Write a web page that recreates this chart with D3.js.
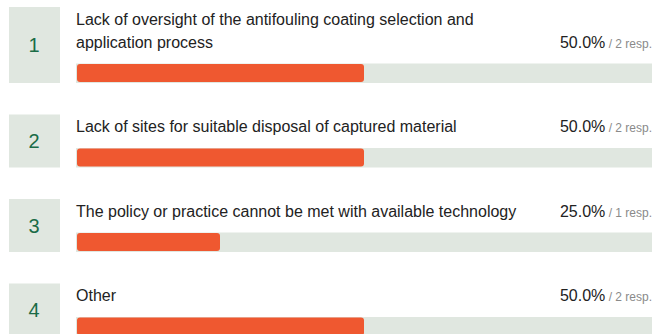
<!DOCTYPE html>
<html>
<head>
<meta charset="utf-8">
<script src="https://cdn.jsdelivr.net/npm/d3@7"></script>
<style>
  html, body { margin: 0; padding: 0; background: #ffffff; }
  svg { display: block; font-family: "Liberation Sans", Arial, Helvetica, sans-serif; }
</style>
</head>
<body>
<svg id="chart" width="669" height="334"></svg>
<script>
// Ranked answers with their share of responses
const ranks = ["1", "2", "3", "4"];
const categories = [
  "Lack of oversight of the antifouling coating selection and application process",
  "Lack of sites for suitable disposal of captured material",
  "The policy or practice cannot be met with available technology",
  "Other"
];
const percents = [50.0, 50.0, 25.0, 50.0];
const responses = [2, 2, 1, 2];

const svg = d3.select("#chart");

const boxX = 9, boxW = 51;
const trackX = 76, trackW = 576, trackH = 19.5;
const lineH = 23;
const rowGap = 31.5;
const wrapWidth = 465;

const x = d3.scaleLinear().domain([0, 100]).range([0, trackW]);

// Break a label into lines that fit the text column
function wrapLines(text) {
  const probe = svg.append("text").attr("font-size", 16);
  const words = text.split(" ");
  const lines = [];
  let cur = "";
  words.forEach(w => {
    const test = cur ? cur + " " + w : w;
    probe.text(test);
    if (probe.node().getComputedTextLength() > wrapWidth && cur) {
      lines.push(cur);
      cur = w;
    } else {
      cur = test;
    }
  });
  if (cur) lines.push(cur);
  probe.remove();
  return lines;
}

let rowTop = 7;
categories.forEach((cat, i) => {
  const lines = wrapLines(cat);
  const firstBase = rowTop + 17.5;
  const lastBase = firstBase + (lines.length - 1) * lineH;
  const trackY = lastBase + 16;
  const bottom = trackY + trackH;

  const g = svg.append("g");

  // rank box
  g.append("rect")
    .attr("x", boxX).attr("y", rowTop)
    .attr("width", boxW).attr("height", bottom - rowTop)
    .attr("fill", "#e0e7e0");
  g.append("text")
    .attr("x", boxX + boxW / 2 - 0.5)
    .attr("y", (rowTop + bottom) / 2)
    .attr("dy", "0.35em")
    .attr("text-anchor", "middle")
    .attr("font-size", 20)
    .attr("fill", "#1a6c47")
    .text(ranks[i]);

  // label
  const label = g.append("text")
    .attr("x", trackX)
    .attr("font-size", 16)
    .attr("fill", "#222222");
  lines.forEach((ln, j) => {
    label.append("tspan")
      .attr("x", trackX)
      .attr("y", firstBase + j * lineH)
      .text(ln);
  });

  // value
  const val = g.append("text")
    .attr("x", trackX + trackW)
    .attr("y", lastBase)
    .attr("text-anchor", "end");
  val.append("tspan")
    .attr("font-size", 16)
    .attr("fill", "#222222")
    .text(percents[i].toFixed(1) + "%");
  val.append("tspan")
    .attr("font-size", 12)
    .attr("fill", "#8a8a8a")
    .text(" / " + responses[i] + " resp.");

  // track and bar
  g.append("rect")
    .attr("x", trackX).attr("y", trackY)
    .attr("width", trackW).attr("height", trackH)
    .attr("fill", "#e0e7e0");
  g.append("rect")
    .attr("x", trackX + 1).attr("y", trackY + 0.5)
    .attr("width", x(percents[i]) - 1).attr("height", trackH - 1.5)
    .attr("rx", 3).attr("ry", 3)
    .attr("fill", "#ef5830");

  rowTop = bottom + rowGap;
});
</script>
</body>
</html>
